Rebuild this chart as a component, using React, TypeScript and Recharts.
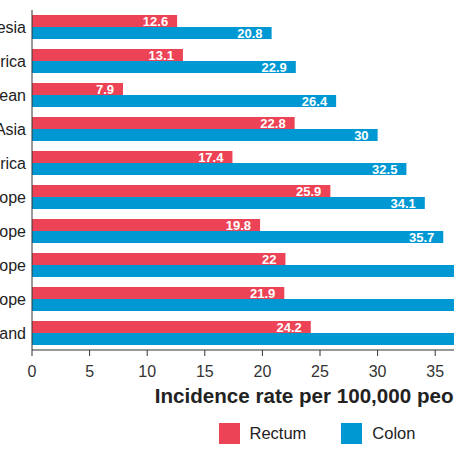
import React from 'react';
import { BarChart, Bar, XAxis, YAxis, LabelList, Legend, Label } from 'recharts';

// regions, top to bottom
const regions = [
  'Polynesia',
  'South America',
  'Caribbean',
  'Eastern Asia',
  'Northern America',
  'Central and Eastern Europe',
  'Southern Europe',
  'Western Europe',
  'Northern Europe',
  'Australia/New Zealand',
];

const rectum = [12.6, 13.1, 7.9, 22.8, 17.4, 25.9, 19.8, 22, 21.9, 24.2];
// last three run past the edge of the picture, values estimated
const colon = [20.8, 22.9, 26.4, 30, 32.5, 34.1, 35.7, 40.6, 41.2, 42.1];

const xTicks = [0, 5, 10, 15, 20, 25, 30, 35, 40, 45, 50];
const seriesNames = ['Rectum', 'Colon'];

const RED = '#ec4456';
const BLUE = '#0098d3';
const FONT = '"Liberation Sans", Arial, Helvetica, sans-serif';

const data = regions.map((region, i) => ({
  region,
  rectum: rectum[i],
  colon: colon[i],
}));

const LegendBox = () => {
  const colors = [RED, BLUE];
  return (
    <div
      style={{
        display: 'flex',
        justifyContent: 'center',
        alignItems: 'center',
        height: 30,
        fontFamily: FONT,
        fontSize: 16.5,
        color: '#222',
        paddingRight: 6,
      }}
    >
      {seriesNames.map((name, i) => (
        <div
          key={name}
          style={{ display: 'flex', alignItems: 'center', marginRight: i === 0 ? 35 : 0 }}
        >
          <span style={{ width: 21, height: 21, background: colors[i], marginRight: 10 }} />
          <span>{name}</span>
        </div>
      ))}
    </div>
  );
};

export default function App() {
  return (
    <div
      style={{
        position: 'fixed',
        left: 0,
        top: 0,
        width: 454,
        height: 454,
        overflow: 'hidden',
        background: '#fff',
      }}
    >
      <div style={{ position: 'absolute', left: -168, top: 0 }}>
        <BarChart
          width={796}
          height={454}
          data={data}
          layout="vertical"
          margin={{ top: 10, right: 20, bottom: 6, left: 0 }}
          barGap={0}
          style={{ fontFamily: FONT }}
        >
          <XAxis
            type="number"
            domain={[0, 50]}
            ticks={xTicks}
            interval={0}
            tickSize={6}
            tickMargin={10}
            height={68}
            axisLine={{ stroke: '#333' }}
            tickLine={{ stroke: '#333' }}
            tick={{ fill: '#333', fontSize: 16 }}
          >
            <Label
              value="Incidence rate per 100,000 people"
              position="insideBottom"
              offset={15}
              dx={-1}
              style={{ fontSize: 20.6, fontWeight: 'bold', fill: '#222' }}
            />
          </XAxis>
          <YAxis
            type="category"
            dataKey="region"
            width={200}
            interval={0}
            tickSize={0}
            tickMargin={6}
            axisLine={{ stroke: '#333' }}
            tick={{ fill: '#222', fontSize: 16 }}
          />
          <Legend
            verticalAlign="bottom"
            height={30}
            wrapperStyle={{ left: 200, width: 576 }}
            content={() => <LegendBox />}
          />
          <Bar dataKey="rectum" name="Rectum" fill={RED} barSize={12} isAnimationActive={false}>
            <LabelList
              dataKey="rectum"
              position="insideRight"
              offset={9}
              fill="#fff"
              fontSize={13}
              fontWeight="bold"
            />
          </Bar>
          <Bar dataKey="colon" name="Colon" fill={BLUE} barSize={12} isAnimationActive={false}>
            <LabelList
              dataKey="colon"
              position="insideRight"
              offset={9}
              fill="#fff"
              fontSize={13}
              fontWeight="bold"
            />
          </Bar>
        </BarChart>
      </div>
    </div>
  );
}
